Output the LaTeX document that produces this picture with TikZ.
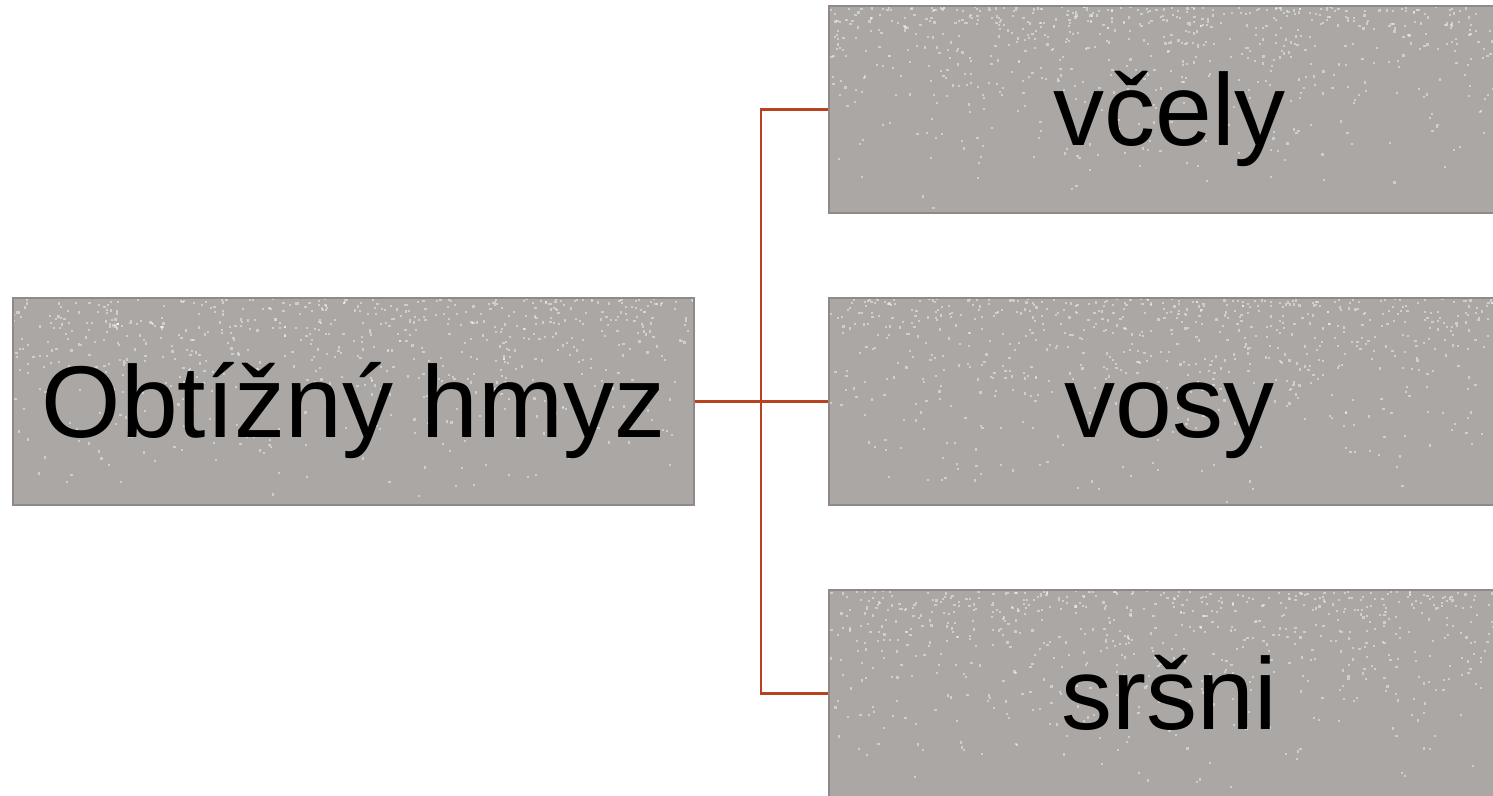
\documentclass[tikz,border=0pt]{standalone}
\usepackage{fontspec}
\setmainfont{Liberation Sans}
\definecolor{boxfill}{RGB}{171,167,165}
\definecolor{boxline}{RGB}{145,136,136}
\definecolor{conn}{RGB}{183,66,30}
\pgfmathsetseed{7}
\tikzset{
  speckle/.style={path picture={
    \foreach \i in {1,...,700}{
      \pgfmathsetmacro\xx{rnd*681}
      \pgfmathsetmacro\yy{rnd*rnd*207}
      \fill[white,opacity=0.45] ([xshift=\xx pt,yshift=-\yy pt]path picture bounding box.north west) rectangle +(2.2,2.2);
    }}},
  leaf/.style={draw=boxline, line width=1.5pt, fill=boxfill, speckle, minimum width=681pt, minimum height=207pt, inner sep=0pt, text height=80pt, text depth=9pt, font=\fontsize{102}{112}\selectfont, text=black},
  link/.style={draw=conn, line width=2.2pt}
}
\begin{document}
\begin{tikzpicture}[x=1pt,y=-1pt]
\useasboundingbox (0,0) rectangle (1493,795);
\fill[white] (0,0) rectangle (1493,795);
\clip (0,0) rectangle (1493,795);
\node[leaf] (L) at (353.5,401.5) {Obtížný hmyz};
\node[leaf] (R1) at (1169.5,109.5) {včely};
\node[leaf] (R2) at (1169.5,401.5) {vosy};
\node[leaf] (R3) at (1169.5,693.5) {sršni};
\coordinate (J) at (761,401.5);
\draw[link] (L.east) -- (R2.west);
\draw[link] (J) |- (R1.west);
\draw[link] (J) |- (R3.west);
\end{tikzpicture}
\end{document}
